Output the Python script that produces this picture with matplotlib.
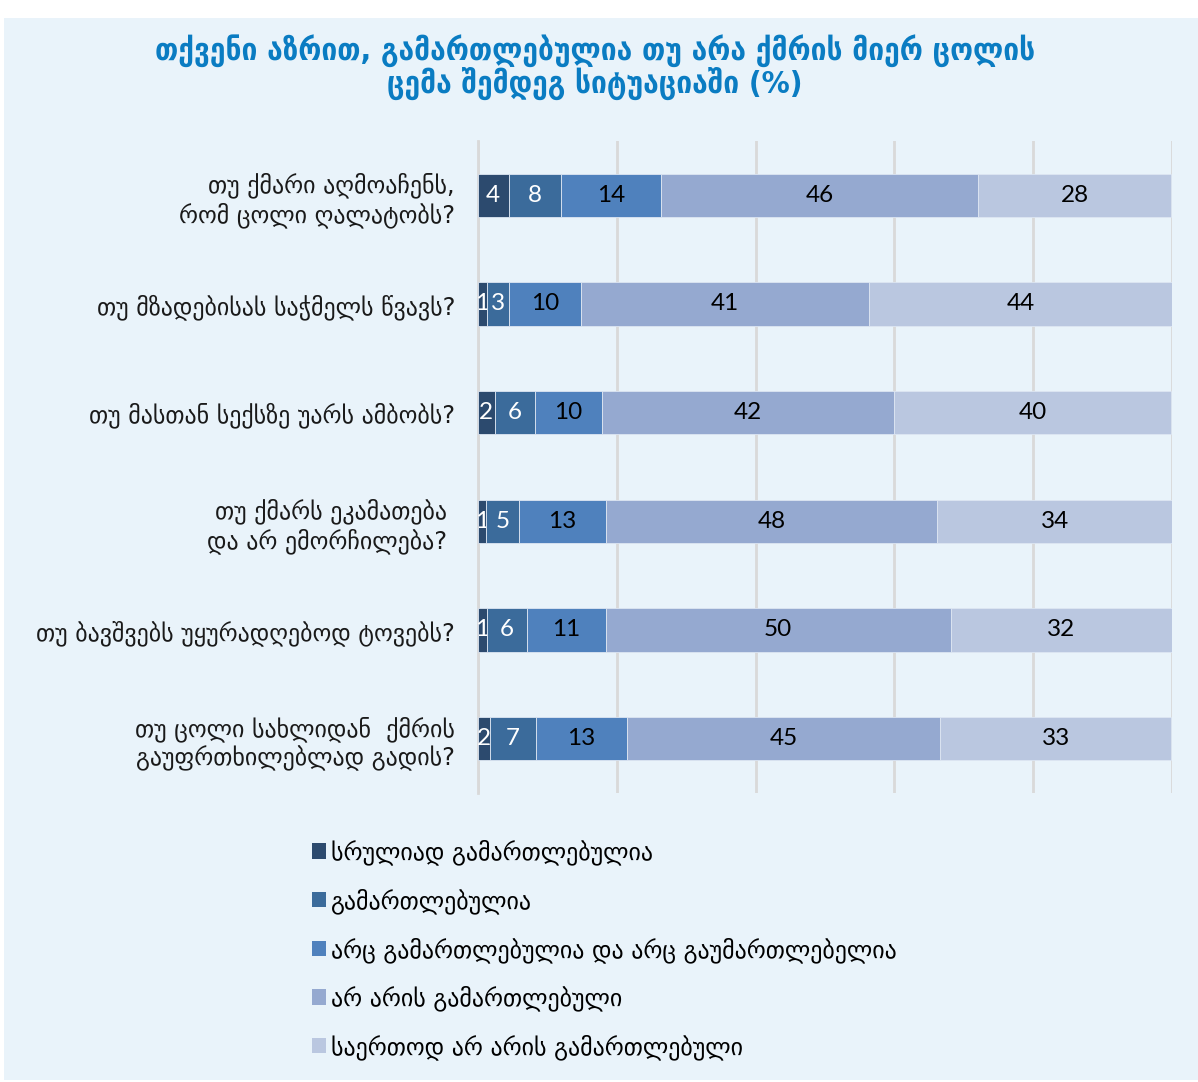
import numpy as np
import matplotlib
matplotlib.use("Agg")
import matplotlib.pyplot as plt
from matplotlib.patches import Patch, Rectangle

# questions (top to bottom)
questions = [
    "თუ ქმარი აღმოაჩენს,\nრომ ცოლი ღალატობს?",
    "თუ მზადებისას საჭმელს წვავს?",
    "თუ მასთან სექსზე უარს ამბობს?",
    "თუ ქმარს ეკამათება \nდა არ ემორჩილება? ",
    "თუ ბავშვებს უყურადღებოდ ტოვებს?",
    "თუ ცოლი სახლიდან  ქმრის\nგაუფრთხილებლად გადის?",
]

answers = [
    "სრულიად გამართლებულია",
    "გამართლებულია",
    "არც გამართლებულია და არც გაუმართლებელია",
    "არ არის გამართლებული",
    "საერთოდ არ არის გამართლებული",
]

# shares in %, one list per answer, same order as questions
fully_justified = [4.4, 1.3, 2.4, 1.1, 1.3, 1.7]
justified = [7.6, 3.2, 5.8, 4.8, 5.8, 6.6]
neither = [14.3, 10.4, 9.6, 12.6, 11.3, 13.2]
not_justified = [45.8, 41.4, 42.2, 47.7, 49.7, 45.1]
not_at_all = [27.8, 43.7, 39.9, 33.9, 31.9, 33.3]

series = [fully_justified, justified, neither, not_justified, not_at_all]
colors = ["#2c4a6e", "#3b6b9b", "#4f81bd", "#95a9d0", "#bac7e0"]
text_colors = ["white", "white", "black", "black", "black"]

bg = "#e9f3fa"
geo_font = "DejaVu Sans"

fig = plt.figure(figsize=(11.98, 10.82), dpi=100)
fig.patch.set_facecolor("white")
fig.patches.append(Rectangle((4 / 1198, 2 / 1082), 1 - 4 / 1198, 1 - 20 / 1082,
                             transform=fig.transFigure, facecolor=bg,
                             edgecolor="none", zorder=-10))

ax = fig.add_axes([478 / 1198, 1 - 793 / 1082, 694 / 1198, 652 / 1082])
ax.set_facecolor(bg)

y = np.arange(len(questions))
left = np.zeros(len(questions))
for vals, col, tcol in zip(series, colors, text_colors):
    vals = np.array(vals)
    bars = ax.barh(y, vals, left=left, height=0.4, color=col,
                   edgecolor="#dde6f2", linewidth=0.6, zorder=3)
    ax.bar_label(bars, labels=["%.0f" % v for v in vals], label_type="center",
                 color=tcol, fontsize=17.5, family="Lato")
    left += vals

ax.set_xlim(0, 100)
ax.set_ylim(len(questions) - 0.5, -0.5)
ax.set_xticks(np.arange(0, 101, 20))
ax.set_xticklabels([])
ax.xaxis.grid(True, color="#d9d9d9", linewidth=2, zorder=0)
ax.tick_params(axis="x", length=0)
ax.set_yticks(y)
ax.set_yticklabels(questions, fontsize=17.2, family=geo_font, color="#1a1a1a")
ax.tick_params(axis="y", length=0, pad=16.5)
for s in ["top", "right", "bottom"]:
    ax.spines[s].set_visible(False)
ax.spines["left"].set_color("#d9d9d9")
ax.spines["left"].set_linewidth(2)

fig.text(595 / 1198, 1 - 67 / 1082,
         "თქვენი აზრით, გამართლებულია თუ არა ქმრის მიერ ცოლის\nცემა შემდეგ სიტუაციაში (%)",
         ha="center", va="center", fontsize=22.5, fontweight="bold",
         family=geo_font, fontstretch="condensed", color="#0a7cc2",
         linespacing=1.0)

handles = [Patch(facecolor=c, edgecolor="none") for c in colors]
fig.legend(handles, answers, loc="upper left",
           bbox_to_anchor=(290 / 1198, 1 - 818 / 1082), frameon=False,
           prop={"family": geo_font, "size": 17.2}, labelspacing=0.96,
           handlelength=0.6, handleheight=0.6, handletextpad=0.2)

fig.savefig("out.png", dpi=100, facecolor=fig.get_facecolor())
